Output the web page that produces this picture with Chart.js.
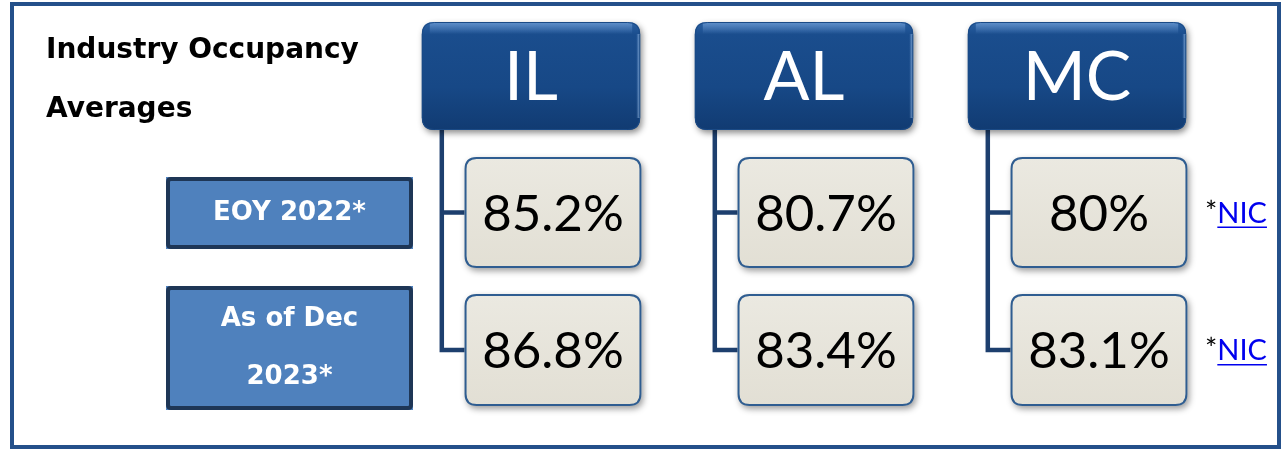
<!DOCTYPE html>
<html>
<head>
<meta charset="utf-8">
<script src="https://cdn.jsdelivr.net/npm/chart.js@4.4.1/dist/chart.umd.min.js"></script>
<style>
  html, body { margin: 0; padding: 0; background: #fff; }
  #wrap { width: 1281px; height: 450px; }
</style>
</head>
<body>
<div id="wrap"><canvas id="occChart" width="1281" height="450"></canvas></div>
<script>
// data
const careTypes = ["IL", "AL", "MC"];
const periodLabels = [["EOY 2022*"], ["As of Dec", "2023*"]];
const eoy2022 = [85.2, 80.7, 80];
const dec2023 = [86.8, 83.4, 83.1];
const titleLines = ["Industry Occupancy", "Averages"];
const sourceNote = "NIC";

// layout: y scale runs 0..450 (top to bottom), rows are bands on it
const headerBand = [22, 130];
const rowBands = [[157, 268], [294, 406]];
const VALUE_SHIFT = 22;   // value boxes sit a little right of the header
const STEM_INSET = 20;    // connector line distance from header left edge

const valueRows = [eoy2022, dec2023];

function fmt(v) {
    return (Number.isInteger(v) ? v.toFixed(0) : v.toFixed(1)) + "%";
}

function barBox(bar) {
    const p = bar.getProps(["x", "y", "base", "width"], true);
    return {
        left: p.x - p.width / 2,
        right: p.x + p.width / 2,
        top: Math.min(p.y, p.base),
        bottom: Math.max(p.y, p.base)
    };
}

function roundRectPath(ctx, x, y, w, h, r) {
    ctx.beginPath();
    ctx.moveTo(x + r, y);
    ctx.lineTo(x + w - r, y);
    ctx.quadraticCurveTo(x + w, y, x + w, y + r);
    ctx.lineTo(x + w, y + h - r);
    ctx.quadraticCurveTo(x + w, y + h, x + w - r, y + h);
    ctx.lineTo(x + r, y + h);
    ctx.quadraticCurveTo(x, y + h, x, y + h - r);
    ctx.lineTo(x, y + r);
    ctx.quadraticCurveTo(x, y, x + r, y);
    ctx.closePath();
}

function drawHeaderBox(ctx, b, text) {
    const w = b.right - b.left, h = b.bottom - b.top;
    ctx.save();
    ctx.shadowColor = "rgba(0,0,0,0.45)";
    ctx.shadowBlur = 6;
    ctx.shadowOffsetX = 2;
    ctx.shadowOffsetY = 3;
    const g = ctx.createLinearGradient(0, b.top, 0, b.bottom);
    g.addColorStop(0, "#2a60a2");
    g.addColorStop(0.12, "#1a4d8d");
    g.addColorStop(0.6, "#174886");
    g.addColorStop(1, "#113b72");
    roundRectPath(ctx, b.left, b.top, w, h, 12);
    ctx.fillStyle = g;
    ctx.fill();
    ctx.restore();

    // gloss along the top and the right edge
    ctx.save();
    roundRectPath(ctx, b.left, b.top, w, h, 12);
    ctx.clip();
    const tg = ctx.createLinearGradient(0, b.top, 0, b.top + 12);
    tg.addColorStop(0, "rgba(120,165,220,0.7)");
    tg.addColorStop(1, "rgba(120,165,220,0)");
    ctx.fillStyle = tg;
    ctx.fillRect(b.left + 8, b.top, w - 16, 12);
    const rg = ctx.createLinearGradient(b.right - 4, 0, b.right, 0);
    rg.addColorStop(0, "rgba(160,200,245,0)");
    rg.addColorStop(1, "rgba(190,220,255,0.7)");
    ctx.fillStyle = rg;
    ctx.fillRect(b.right - 4, b.top + 12, 4, h - 24);
    ctx.restore();

    ctx.save();
    roundRectPath(ctx, b.left + 0.5, b.top + 0.5, w - 1, h - 1, 12);
    ctx.strokeStyle = "#1a4a86";
    ctx.lineWidth = 1;
    ctx.stroke();
    ctx.fillStyle = "#ffffff";
    ctx.font = "68px Lato";
    ctx.textAlign = "center";
    ctx.textBaseline = "middle";
    ctx.fillText(text, (b.left + b.right) / 2, (b.top + b.bottom) / 2 + 2);
    ctx.restore();
}

function drawValueBox(ctx, b, text) {
    const w = b.right - b.left, h = b.bottom - b.top;
    ctx.save();
    ctx.shadowColor = "rgba(0,0,0,0.38)";
    ctx.shadowBlur = 6;
    ctx.shadowOffsetX = 2;
    ctx.shadowOffsetY = 3;
    const g = ctx.createLinearGradient(0, b.top, 0, b.bottom);
    g.addColorStop(0, "#ebe9e1");
    g.addColorStop(1, "#e2dfd4");
    roundRectPath(ctx, b.left, b.top, w, h, 12);
    ctx.fillStyle = g;
    ctx.fill();
    ctx.restore();

    ctx.save();
    roundRectPath(ctx, b.left + 1, b.top + 1, w - 2, h - 2, 11);
    ctx.strokeStyle = "#2f5d91";
    ctx.lineWidth = 2;
    ctx.stroke();
    ctx.fillStyle = "#000000";
    ctx.font = "51px Lato";
    ctx.textAlign = "center";
    ctx.textBaseline = "middle";
    ctx.fillText(text, (b.left + b.right) / 2, (b.top + b.bottom) / 2 + 2);
    ctx.restore();
}

function drawLabelBox(ctx, x, y, w, h, lines) {
    ctx.save();
    ctx.fillStyle = "#4f81bd";
    ctx.fillRect(x, y, w, h);
    ctx.strokeStyle = "#1e3656";
    ctx.lineWidth = 4;
    roundRectPath(ctx, x + 2, y + 2, w - 4, h - 4, 3);
    ctx.stroke();
    ctx.fillStyle = "#ffffff";
    ctx.font = "bold 26px 'DejaVu Sans'";
    ctx.textAlign = "center";
    ctx.textBaseline = "middle";
    const step = 58;
    const y0 = y + h / 2 - (lines.length - 1) * step / 2;
    lines.forEach((t, i) => ctx.fillText(t, x + w / 2, y0 + i * step));
    ctx.restore();
}

const orgPlugin = {
    id: "orgBoxes",
    beforeDraw(chart) {
        const ctx = chart.ctx;
        ctx.save();
        ctx.fillStyle = "#ffffff";
        ctx.fillRect(0, 0, chart.width, chart.height);
        ctx.strokeStyle = "#24508a";
        ctx.lineWidth = 4;
        ctx.strokeRect(12, 4, 1267, 443);

        // title
        ctx.fillStyle = "#000000";
        ctx.font = "bold 28px 'DejaVu Sans'";
        ctx.textBaseline = "alphabetic";
        ctx.fillText(titleLines[0], 46, 58);
        ctx.fillText(titleLines[1], 46, 117);
        ctx.restore();

        drawLabelBox(ctx, 166, 177, 247, 72, periodLabels[0]);
        drawLabelBox(ctx, 166, 286, 247, 124, periodLabels[1]);
    },
    afterDatasetsDraw(chart) {
        const ctx = chart.ctx;
        const heads = chart.getDatasetMeta(0).data;
        const rows = [chart.getDatasetMeta(1).data, chart.getDatasetMeta(2).data];

        heads.forEach((bar, i) => {
            const hb = barBox(bar);
            const vbs = rows.map(r => {
                const b = barBox(r[i]);
                b.left += VALUE_SHIFT;
                b.right += VALUE_SHIFT;
                return b;
            });
            const stemX = hb.left + STEM_INSET;
            const mids = vbs.map(b => (b.top + b.bottom) / 2);

            // connectors
            ctx.save();
            ctx.strokeStyle = "#1d3f6e";
            ctx.lineWidth = 4.5;
            ctx.lineCap = "square";
            ctx.beginPath();
            ctx.moveTo(stemX, hb.bottom);
            ctx.lineTo(stemX, mids[mids.length - 1]);
            mids.forEach(m => {
                ctx.moveTo(stemX, m);
                ctx.lineTo(vbs[0].left + 2, m);
            });
            ctx.stroke();
            ctx.restore();

            vbs.forEach((b, k) => drawValueBox(ctx, b, fmt(valueRows[k][i])));
            drawHeaderBox(ctx, hb, careTypes[i]);
        });

        // source notes beside the last column
        const last = rows.map(r => barBox(r[r.length - 1]));
        ctx.save();
        ctx.font = "29px Lato";
        ctx.textBaseline = "middle";
        last.forEach(b => {
            const m = (b.top + b.bottom) / 2;
            ctx.fillStyle = "#000000";
            ctx.fillText("*", 1205, m);
            const sx = 1205 + ctx.measureText("*").width;
            ctx.fillStyle = "#0000ee";
            ctx.fillText(sourceNote, sx, m + 1);
            const nw = ctx.measureText(sourceNote).width;
            ctx.fillRect(sx, m + 14, nw, 1.5);
        });
        ctx.restore();
    }
};

new Chart(document.getElementById("occChart"), {
    type: "bar",
    data: {
        labels: careTypes,
        datasets: [
            {
                label: "header",
                data: careTypes.map(() => headerBand),
                barPercentage: 0.8,
                categoryPercentage: 1,
                backgroundColor: "transparent",
                grouped: false
            },
            {
                label: "EOY 2022*",
                data: eoy2022.map(() => rowBands[0]),
                barPercentage: 0.648,
                categoryPercentage: 1,
                backgroundColor: "transparent",
                grouped: false
            },
            {
                label: "As of Dec 2023*",
                data: dec2023.map(() => rowBands[1]),
                barPercentage: 0.648,
                categoryPercentage: 1,
                backgroundColor: "transparent",
                grouped: false
            }
        ]
    },
    options: {
        responsive: false,
        animation: false,
        events: [],
        layout: { padding: { left: 394.5, right: 67.5, top: 0, bottom: 0 } },
        plugins: { legend: { display: false }, tooltip: { enabled: false } },
        scales: {
            x: { display: false, offset: true },
            y: { display: false, reverse: true, min: 0, max: 450 }
        }
    },
    plugins: [orgPlugin]
});
</script>
</body>
</html>
